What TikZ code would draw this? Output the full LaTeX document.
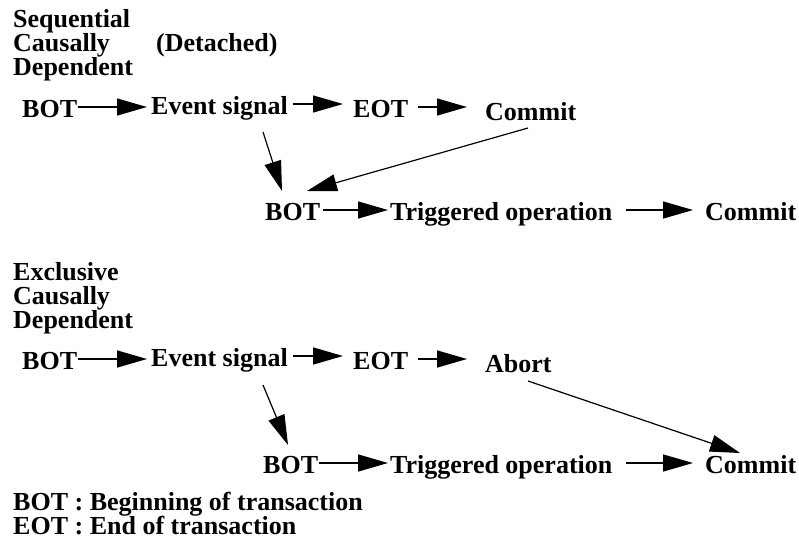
\documentclass[tikz,border=0pt]{standalone}
\usepackage{fontspec}
\setmainfont{Liberation Serif}
\usetikzlibrary{arrows.meta,calc}

\tikzset{
  lbl/.style={font=\bfseries\fontsize{26}{24}\selectfont, inner sep=0pt,
              text height=20pt, text depth=0pt, anchor=base west},
  % multi-line blocks: the base anchor sits on the last line
  blk/.style={font={\bfseries\fontsize{26}{#1}\selectfont\lineskiplimit=-40pt},
              inner sep=0pt, align=left, anchor=base west},
  blk/.default=24pt,
  arr/.style={line width=1.4pt, -{Triangle[length=30pt,width=17pt]}},
  darr/.style={line width=1.2pt, -{Triangle[length=30pt,width=17pt]}}
}

\begin{document}
\begin{tikzpicture}[x=1pt,y=-1pt]
\useasboundingbox (0,0) rectangle (799,541);

% ---------- sequential causally dependent (detached) ----------
\node[blk] (hA) at (13,75) {Sequential\\Causally\\Dependent};
\node[lbl] (det) at (156,51) {(Detached)};

\node[lbl] (bA) at (22,117) {BOT};
\node[lbl] (eA) at (151,114) {Event signal};
\node[lbl] (oA) at (353,117) {EOT};
\node[lbl] (cA) at (485,120) {Commit};

\node[lbl] (bB) at (265,220) {BOT};
\node[lbl] (tB) at (390,220) {Triggered operation};
\node[lbl] (cB) at (705,220) {Commit};

\draw[arr, shorten <=1pt,  shorten >=4pt]  (bA.east) -- (bA.east -| eA.west);
\draw[arr, shorten <=5pt,  shorten >=10pt] (eA.east) -- (eA.east -| oA.west);
\draw[arr, shorten <=10pt, shorten >=18pt] (oA.east) -- (oA.east -| cA.west);
\draw[arr, shorten <=3pt,  shorten >=2pt]  (bB.east) -- (bB.east -| tB.west);
\draw[arr, shorten <=13pt, shorten >=12pt] (tB.east) -- (tB.east -| cB.west);

\draw[darr] ($(eA.base west)+(112,18)$) -- ($(bB.base west)+(17,-29)$);
\draw[darr] ($(cA.base west)+(43,8)$)   -- ($(bB.base west)+(42,-29)$);

% ---------- exclusive causally dependent ----------
\node[blk] (hC) at (13,328) {Exclusive\\Causally\\Dependent};

\node[lbl] (bC) at (22,369) {BOT};
\node[lbl] (eC) at (151,366) {Event signal};
\node[lbl] (oC) at (353,369) {EOT};
\node[lbl] (aC) at (485,372) {Abort};

\node[lbl] (bD) at (263,473) {BOT};
\node[lbl] (tD) at (390,473) {Triggered operation};
\node[lbl] (cD) at (705,473) {Commit};

\draw[arr, shorten <=1pt,  shorten >=4pt]  (bC.east) -- (bC.east -| eC.west);
\draw[arr, shorten <=5pt,  shorten >=10pt] (eC.east) -- (eC.east -| oC.west);
\draw[arr, shorten <=10pt, shorten >=18pt] (oC.east) -- (oC.east -| aC.west);
\draw[arr, shorten <=1pt,  shorten >=2pt]  (bD.east) -- (bD.east -| tD.west);
\draw[arr, shorten <=13pt, shorten >=12pt] (tD.east) -- (tD.east -| cD.west);

\draw[darr] ($(eC.base west)+(112,19)$) -- ($(bD.base west)+(25,-28)$);
\draw[darr] ($(aC.base west)+(43,9)$)   -- ($(cD.base west)+(35,-20)$);

% ---------- legend ----------
\node[blk] (lg) at (13,534) {BOT : Beginning of transaction\\EOT : End of transaction};
\end{tikzpicture}
\end{document}
